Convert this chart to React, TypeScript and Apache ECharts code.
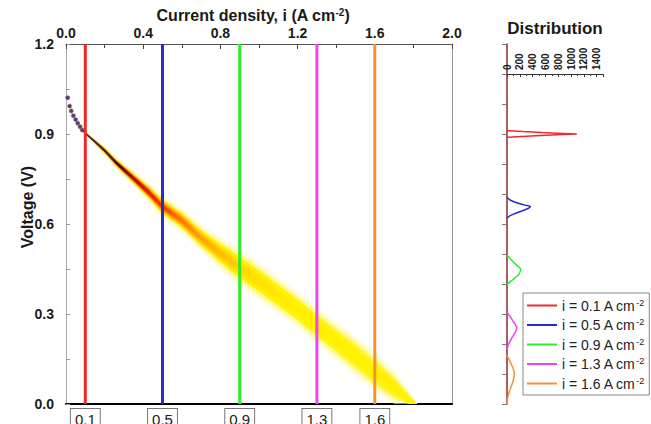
import React, { useEffect, useRef } from 'react';
import * as echarts from 'echarts';

const FONT = '"Liberation Sans", Arial, sans-serif';

// Probe current densities (A cm-2) and their colours
const probeCurrents = [0.1, 0.5, 0.9, 1.3, 1.6];
const probeColors = ['#f02828', '#2a2ac8', '#2aee2a', '#ee44ee', '#f49232'];

// Top axis / left axis ticks
const currentMin = 0;
const currentMax = 2.0;
const currentInterval = 0.4;
const voltageMin = 0;
const voltageMax = 1.2;
const voltageInterval = 0.3;

// Polarisation-curve density band (centre voltage and vertical half-width)
const bandCurrent = [0.09, 0.1, 0.15, 0.2, 0.26, 0.35, 0.43, 0.5, 0.6, 0.7, 0.8, 0.9, 1.0, 1.1, 1.2, 1.3, 1.4, 1.5, 1.6, 1.7, 1.78, 1.82];
const bandVoltage = [0.909, 0.903, 0.874, 0.845, 0.804, 0.752, 0.705, 0.658, 0.612, 0.553, 0.503, 0.455, 0.41, 0.362, 0.315, 0.262, 0.21, 0.16, 0.107, 0.055, 0.012, -0.01];
const bandHalfWidth = [0.004, 0.006, 0.009, 0.012, 0.015, 0.02, 0.025, 0.029, 0.032, 0.034, 0.04, 0.047, 0.047, 0.046, 0.046, 0.046, 0.048, 0.05, 0.05, 0.042, 0.022, 0.006];

// Isolated low-current points
const startDotsCurrent = [0.009, 0.019, 0.027, 0.038, 0.05, 0.061, 0.073, 0.084];
const startDotsVoltage = [1.021, 0.993, 0.977, 0.961, 0.948, 0.936, 0.924, 0.913];

// Distribution panel: [count, voltage]
const distCountMax = 1500;
const distCountLabels = [0, 200, 400, 600, 800, 1000, 1200, 1400];
const dist01: number[][] = [[0, 0.911], [250, 0.908], [550, 0.905], [870, 0.902], [1090, 0.9], [860, 0.898], [530, 0.895], [230, 0.892], [0, 0.889]];
const dist05: number[][] = [[0, 0.689], [47, 0.68], [150, 0.671], [280, 0.663], [365, 0.658], [340, 0.653], [300, 0.649], [200, 0.641], [100, 0.633], [20, 0.624], [0, 0.619]];
const dist09: number[][] = [[0, 0.497], [70, 0.48], [150, 0.463], [195, 0.455], [213, 0.448], [205, 0.441], [175, 0.43], [100, 0.416], [20, 0.402], [0, 0.397]];
const dist13: number[][] = [[0, 0.308], [20, 0.3], [50, 0.291], [75, 0.283], [100, 0.274], [125, 0.267], [140, 0.26], [152, 0.255], [148, 0.25], [140, 0.244], [122, 0.236], [98, 0.228], [72, 0.219], [45, 0.208], [20, 0.197], [8, 0.188], [0, 0.18]];
const dist16: number[][] = [[0, 0.163], [15, 0.155], [36, 0.147], [60, 0.136], [85, 0.124], [105, 0.113], [115, 0.102], [110, 0.092], [100, 0.08], [85, 0.07], [73, 0.063], [55, 0.052], [36, 0.041], [20, 0.03], [10, 0.019], [3, 0.008], [0, 0.0]];
const distributions = [dist01, dist05, dist09, dist13, dist16];

const App: React.FC = () => {
  const ref = useRef<HTMLDivElement>(null);

  useEffect(() => {
    document.body.style.margin = '0';
    if (!ref.current) return;
    const chart = echarts.init(ref.current, undefined, { renderer: 'svg' });

    const c0 = bandCurrent[0];
    const c1 = bandCurrent[bandCurrent.length - 1];
    const off = (i: number) => Math.min(1, Math.max(0, (i - c0) / (c1 - c0)));
    const grad = (stops: [number, string][]) =>
      new echarts.graphic.LinearGradient(0, 0, 1, 0, stops.map(([i, color]) => ({ offset: off(i), color })));

    const layers = [
      { f: 1.3, fill: 'rgba(255,250,170,0.55)' },
      { f: 1.0, fill: '#fff88a' },
      { f: 0.75, fill: grad([[0.09, '#ffc000'], [0.3, '#ffb000'], [0.5, '#ffd000'], [0.75, '#ffe800'], [1.0, '#fff200'], [1.82, '#fff530']]) },
      { f: 0.45, fill: grad([[0.09, '#3a2478'], [0.2, '#4a1848'], [0.27, '#a01400'], [0.35, '#e02000'], [0.45, '#f85000'], [0.55, '#ff8800'], [0.7, '#ffb800'], [0.9, '#ffdc00'], [1.15, '#fff000'], [1.82, '#fff200']]) },
      { f: 0.2, fill: grad([[0.09, '#2b1b88'], [0.22, '#2a1a70'], [0.28, '#300810'], [0.34, '#901000'], [0.4, '#d01800'], [0.5, '#f03800'], [0.6, '#ff7800'], [0.75, '#ffb000'], [0.95, '#ffdc00'], [1.2, '#fff000'], [1.82, '#fff200']]) },
    ];

    const renderBand = (params: any, api: any) => {
      const children = layers.map((L) => {
        const upper = bandCurrent.map((c, k) => api.coord([c, Math.max(0, bandVoltage[k] + bandHalfWidth[k] * L.f)]));
        const lower = bandCurrent.map((c, k) => api.coord([c, Math.max(0, bandVoltage[k] - bandHalfWidth[k] * L.f)])).reverse();
        return { type: 'polygon', shape: { points: upper.concat(lower) }, style: { fill: L.fill } };
      });
      return { type: 'group', children };
    };

    const boldLabel = { fontFamily: FONT, fontWeight: 'bold' as const, fontSize: 14, color: '#1a1a1a' };

    const option: any = {
      animation: false,
      grid: [
        { left: 66, top: 44, width: 386, height: 360, outerBoundsMode: 'none', containLabel: false },
        { left: 507, top: 44, width: 96, height: 360, outerBoundsMode: 'none', containLabel: false },
      ],
      xAxis: [
        {
          gridIndex: 0, type: 'value', position: 'top', min: currentMin, max: currentMax, interval: currentInterval,
          axisLine: { onZero: false, lineStyle: { color: '#555', width: 1 } },
          axisTick: { inside: true, length: 5, lineStyle: { color: '#444' } },
          minorTick: { show: true, splitNumber: 2, length: 4, lineStyle: { color: '#444' } },
          axisLabel: { ...boldLabel, margin: 4, formatter: (v: number) => v.toFixed(1) },
          splitLine: { show: false },
        },
        {
          gridIndex: 0, type: 'value', position: 'bottom', min: currentMin, max: currentMax,
          axisLine: { onZero: false, lineStyle: { color: '#000', width: 2 } },
          axisTick: { show: false },
          axisLabel: {
            customValues: probeCurrents, formatter: (v: number) => v.toFixed(1),
            fontFamily: FONT, fontSize: 15, color: '#222', margin: 5,
            borderColor: '#777', borderWidth: 1, padding: [3, 4, 6, 4], backgroundColor: '#fff',
          },
          splitLine: { show: false },
        },
        {
          gridIndex: 1, type: 'value', position: 'top', offset: -30, min: 0, max: distCountMax, interval: 200,
          axisLine: { onZero: false, lineStyle: { color: '#333', width: 1 } },
          axisTick: { inside: true, length: 3, lineStyle: { color: '#333' } },
          minorTick: { show: true, splitNumber: 2, length: 2, lineStyle: { color: '#333' } },
          axisLabel: {
            customValues: distCountLabels, rotate: -90, formatter: (v: number) => String(v),
            fontFamily: FONT, fontWeight: 'bold', fontSize: 10, color: '#1a1a1a', margin: 4,
          },
          splitLine: { show: false },
        },
      ],
      yAxis: [
        {
          gridIndex: 0, type: 'value', position: 'left', min: voltageMin, max: voltageMax, interval: voltageInterval,
          axisLine: { show: true, onZero: false, lineStyle: { color: '#aaa', width: 1 } },
          axisTick: { show: true, inside: true, length: 4, lineStyle: { color: '#999' } },
          minorTick: { show: true, splitNumber: 2, length: 4, lineStyle: { color: '#999' } },
          axisLabel: { ...boldLabel, margin: 12, formatter: (v: number) => v.toFixed(1) },
          splitLine: { show: false },
        },
        {
          gridIndex: 0, type: 'value', position: 'right', min: voltageMin, max: voltageMax,
          axisLine: { show: true, onZero: false, lineStyle: { color: '#999', width: 1 } },
          axisTick: { show: false }, axisLabel: { show: false }, splitLine: { show: false },
        },
        {
          gridIndex: 1, type: 'value', position: 'left', min: 0, max: 1.2, interval: 0.1,
          axisLine: { show: true, onZero: false, lineStyle: { color: '#8b2a2a', width: 1.5 } },
          axisTick: { show: true, length: 5, lineStyle: { color: '#777' } },
          axisLabel: { show: false }, splitLine: { show: false },
        },
      ],
      legend: {
        data: probeCurrents.map((c) => c.toFixed(1)),
        orient: 'vertical', left: 523, top: 293,
        icon: 'rect', itemWidth: 30, itemHeight: 2, itemGap: 4.5,
        padding: [5, 5, 4, 4],
        borderColor: '#888', borderWidth: 1, backgroundColor: '#fff',
        formatter: (name: string) => `i = ${name} A cm{sup|-2}`,
        textStyle: {
          fontFamily: FONT, fontSize: 14, color: '#222', lineHeight: 15,
          rich: { sup: { fontFamily: FONT, fontSize: 9, verticalAlign: 'top', lineHeight: 15, color: '#222' } },
        },
      },
      graphic: [
        {
          type: 'text', x: 253, y: 15,
          style: {
            text: 'Current density, i (A cm{sup|-2})', fontFamily: FONT, fontWeight: 'bold', fontSize: 16, fill: '#1a1a1a',
            align: 'center', verticalAlign: 'middle',
            rich: { sup: { fontFamily: FONT, fontWeight: 'bold', fontSize: 10, verticalAlign: 'top', fill: '#1a1a1a' } },
          },
        },
        {
          type: 'text', x: 555, y: 28,
          style: { text: 'Distribution', fontFamily: FONT, fontWeight: 'bold', fontSize: 17, fill: '#1a1a1a', align: 'center', verticalAlign: 'middle' },
        },
        {
          type: 'text', x: 27, y: 207, rotation: Math.PI / 2,
          style: { text: 'Voltage (V)', fontFamily: FONT, fontWeight: 'bold', fontSize: 16, fill: '#1a1a1a', align: 'center', verticalAlign: 'middle' },
        },
      ],
      series: [
        {
          type: 'custom', name: 'band', xAxisIndex: 0, yAxisIndex: 0, clip: true, silent: true,
          data: [[bandCurrent[0], bandVoltage[0]]],
          renderItem: renderBand, z: 1,
        },
        {
          type: 'scatter', name: 'dots', xAxisIndex: 0, yAxisIndex: 0, silent: true,
          data: startDotsCurrent.map((c, k) => [c, startDotsVoltage[k]]),
          symbolSize: 4.5, itemStyle: { color: '#24106a', borderColor: '#f0b030', borderWidth: 0.6 }, z: 2,
        },
        ...probeCurrents.map((c, k) => ({
          type: 'line', name: 'probe' + k, xAxisIndex: 0, yAxisIndex: 0, silent: true,
          data: [[c, voltageMin], [c, voltageMax]], symbol: 'none',
          lineStyle: { color: probeColors[k], width: 3 }, z: 3,
        })),
        ...distributions.map((d, k) => ({
          type: 'line', name: probeCurrents[k].toFixed(1), xAxisIndex: 2, yAxisIndex: 2, silent: true,
          data: d, symbol: 'none', smooth: k === 0 ? false : 0.3,
          lineStyle: { color: probeColors[k], width: 1.5 }, itemStyle: { color: probeColors[k] }, z: 3,
        })),
      ],
    };

    chart.setOption(option);
    return () => chart.dispose();
  }, []);

  return <div ref={ref} style={{ position: 'absolute', left: 0, top: 0, width: 651, height: 424 }} />;
};

export default App;
